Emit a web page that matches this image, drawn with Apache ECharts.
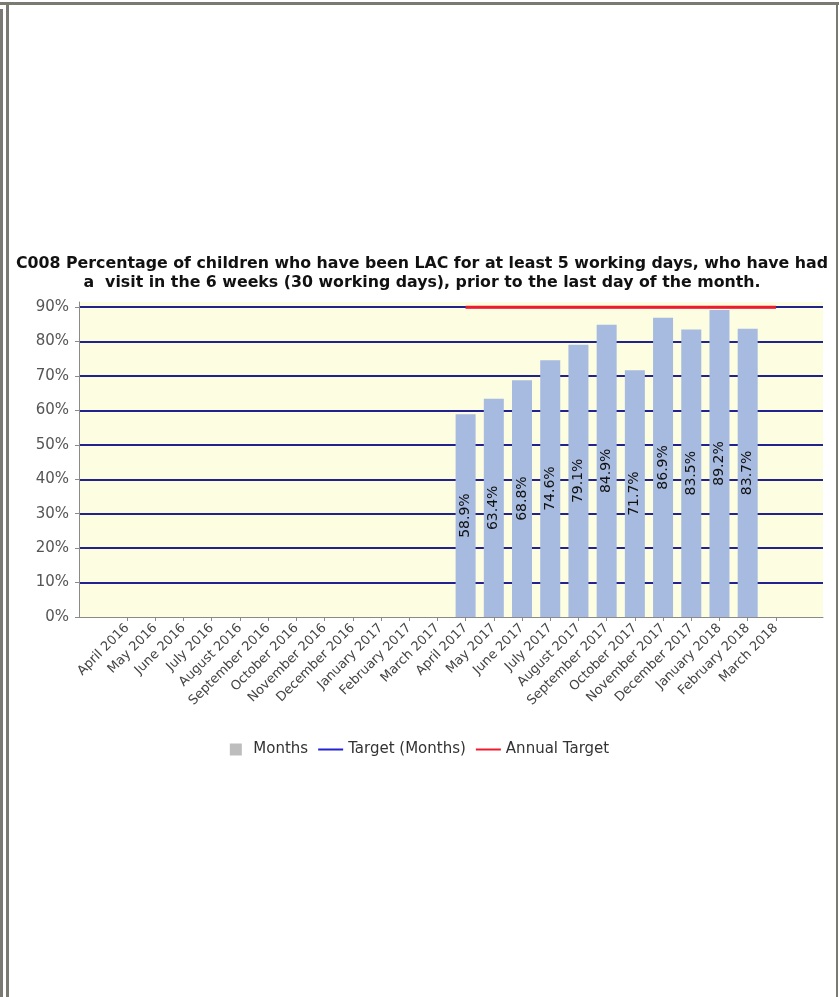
<!DOCTYPE html>
<html>
<head>
<meta charset="utf-8">
<script src="https://cdn.jsdelivr.net/npm/echarts@6/dist/echarts.min.js"></script>
<style>
  html, body { margin: 0; padding: 0; background: #fff; }
  #wrap { position: relative; width: 839px; height: 997px; overflow: hidden; }
  #chart { position: absolute; left: 0; top: 0; width: 839px; height: 997px; }
  .bd { position: absolute; background: #7a7a72; }
</style>
</head>
<body>
<div id="wrap">
  <div id="chart"></div>
  <div class="bd" style="left:0;top:2px;width:839px;height:3px"></div>
  <div class="bd" style="left:0;top:9px;width:3px;height:988px"></div>
  <div class="bd" style="left:6px;top:5px;width:3px;height:992px"></div>
  <div class="bd" style="left:836px;top:5px;width:2px;height:992px"></div>
</div>
<script>
// categories
const months = [
  'April 2016', 'May 2016', 'June 2016', 'July 2016', 'August 2016', 'September 2016',
  'October 2016', 'November 2016', 'December 2016', 'January 2017', 'February 2017', 'March 2017',
  'April 2017', 'May 2017', 'June 2017', 'July 2017', 'August 2017', 'September 2017',
  'October 2017', 'November 2017', 'December 2017', 'January 2018', 'February 2018', 'March 2018'
];

// series values (%)
const monthValues = [
  null, null, null, null, null, null, null, null, null, null, null, null,
  58.9, 63.4, 68.8, 74.6, 79.1, 84.9, 71.7, 86.9, 83.5, 89.2, 83.7, null
];
const targetMonths = [
  null, null, null, null, null, null, null, null, null, null, null, null,
  90, 90, 90, 90, 90, 90, 90, 90, 90, 90, 90, 90
];
const annualTarget = [
  null, null, null, null, null, null, null, null, null, null, null, null,
  90, 90, 90, 90, 90, 90, 90, 90, 90, 90, 90, 90
];

const yTicks = [0, 10, 20, 30, 40, 50, 60, 70, 80, 90];

const font = 'DejaVu Sans';
const lineIcon = 'path://M0 0H25V2H0Z';
const chart = echarts.init(document.getElementById('chart'));

chart.setOption({
  animation: false,
  textStyle: { fontFamily: font },
  title: {
    text: 'C008 Percentage of children who have been LAC for at least 5 working days, who have had\na  visit in the 6 weeks (30 working days), prior to the last day of the month.',
    left: 417,
    top: 249,
    textAlign: 'center',
    textStyle: { fontFamily: font, fontSize: 15.8, fontWeight: 'bold', color: '#111', lineHeight: 19 }
  },
  legend: {
    top: 737,
    left: 'center',
    itemWidth: 25,
    itemHeight: 12,
    itemGap: 10,
    textStyle: { fontFamily: font, fontSize: 15, color: '#333' },
    data: [
      { name: 'Months', icon: 'path://M0 0H10V10H0Z', itemStyle: { color: '#bdbdbd' } },
      { name: 'Target (Months)', icon: lineIcon },
      { name: 'Annual Target', icon: lineIcon }
    ]
  },
  grid: [
    { left: 79, right: 16, top: 302, bottom: 380, show: true, backgroundColor: '#fdfde2', borderWidth: 0 },
    { left: 113, right: 49, top: 302, bottom: 380 }
  ],
  xAxis: [
    {
      gridIndex: 0, type: 'category', data: months,
      axisLine: { lineStyle: { color: '#8a8a8a', width: 1 } },
      axisTick: { show: false }, axisLabel: { show: false }, splitLine: { show: false }
    },
    {
      gridIndex: 1, type: 'category', data: months,
      axisLine: { show: false },
      axisTick: { show: true, alignWithLabel: true, length: 4, lineStyle: { color: '#8a8a8a' } },
      axisLabel: { interval: 0, rotate: 45, margin: 9, fontSize: 13, color: '#444', fontFamily: font }
    }
  ],
  yAxis: [
    {
      gridIndex: 0, type: 'value', min: 0, max: 91.5, interval: 10,
      axisLine: { show: true, lineStyle: { color: '#8a8a8a', width: 1 } },
      axisTick: { show: true, length: 4, lineStyle: { color: '#8a8a8a' } },
      axisLabel: {
        fontSize: 15, color: '#555', margin: 10, fontFamily: font, showMaxLabel: false,
        formatter: v => yTicks.indexOf(v) >= 0 ? v + '%' : ''
      },
      splitLine: { show: true, showMinLine: false, showMaxLine: false, lineStyle: { color: '#22228f', width: 2 } }
    },
    { gridIndex: 1, type: 'value', min: 0, max: 91.5, interval: 10, show: false, splitLine: { show: false } }
  ],
  series: [
    {
      name: 'Months', type: 'bar', xAxisIndex: 1, yAxisIndex: 1,
      data: monthValues, barWidth: 20,
      itemStyle: { color: '#a7badf' },
      label: {
        show: true, position: 'inside', rotate: 90, fontSize: 14, color: '#111', fontFamily: font,
        formatter: p => p.value.toFixed(1) + '%'
      },
      z: 2
    },
    {
      name: 'Target (Months)', type: 'line', xAxisIndex: 1, yAxisIndex: 1,
      data: targetMonths, symbol: 'none', color: '#2323d0',
      lineStyle: { color: '#2323d0', width: 2 }, z: 3
    },
    {
      name: 'Annual Target', type: 'line', xAxisIndex: 1, yAxisIndex: 1,
      data: annualTarget, symbol: 'none', color: '#ee1b2e',
      lineStyle: { color: '#ee1b2e', width: 3 }, z: 4
    }
  ]
});
</script>
</body>
</html>
